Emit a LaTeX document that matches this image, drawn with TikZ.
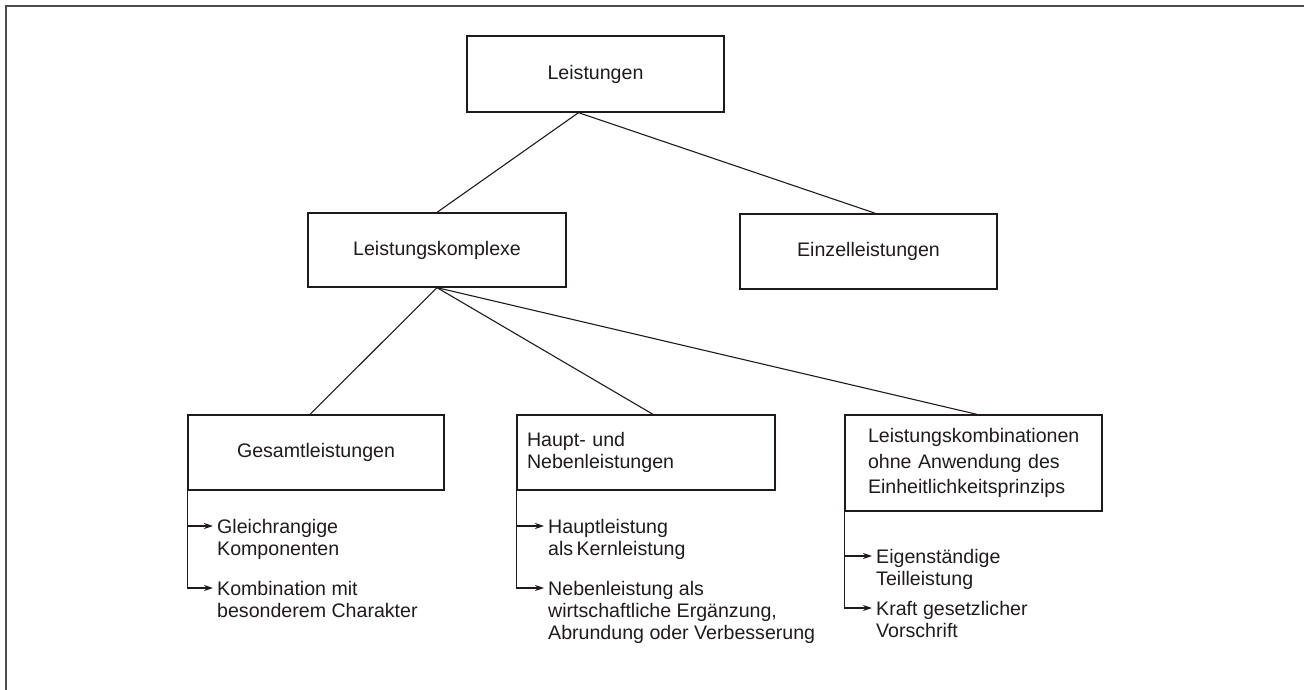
\documentclass[tikz,border=0pt]{standalone}
\usepackage{fontspec}
\setmainfont{Liberation Sans}
\usetikzlibrary{arrows.meta}
\definecolor{ink}{HTML}{1F1B1C}
\definecolor{framec}{HTML}{4D4D4D}
\begin{document}
\begin{tikzpicture}[x=1pt,y=-1pt,
  every node/.style={text=ink},
  box/.style={draw=ink, line width=1.3pt, inner sep=0pt, font=\fontsize{19.6}{22}\selectfont},
  item/.style={anchor=north west, inner sep=0pt, align=left, font=\fontsize{19.6}{22}\selectfont},
  conn/.style={draw=ink, line width=1.1pt},
  arr/.style={draw=ink, line width=1.1pt, -{Stealth[length=9pt,width=6pt]}}
]
\useasboundingbox (0,0) rectangle (1304,690);
% frame
\draw[framec, line width=2.2pt] (6,690) -- (6,6) -- (1304,6);

% boxes
\node[box, minimum width=257pt, minimum height=76pt] (lei) at (595.5,74) {Leistungen};
\node[box, minimum width=258pt, minimum height=74pt] (lk) at (437,250) {Leistungskomplexe};
\node[box, minimum width=257pt, minimum height=75pt] (ein) at (868.5,251.5) {Einzelleistungen};
\node[box, minimum width=256pt, minimum height=75pt] (ges) at (316,452.5) {Gesamtleistungen};
\node[box, minimum width=258pt, minimum height=75pt, text width=238pt, inner xsep=10pt, align=left] (hn) at (646,452.5) {Haupt- und\\Nebenleistungen};
\node[box, minimum width=257pt, minimum height=96pt, text width=211pt, inner xsep=23pt, align=left, font=\fontsize{19.6}{25.5}\selectfont] (kom) at (973.5,463) {Leistungskombinationen\\ohne Anwendung des\\Einheitlichkeitsprinzips};

% connectors
\draw[conn] ([xshift=-17pt]lei.south) -- (lk.north);
\draw[conn] ([xshift=-17pt]lei.south) -- ([xshift=7pt]ein.north);
\draw[conn] (lk.south) -- ([xshift=-6pt]ges.north);
\draw[conn] (lk.south) -- ([xshift=7pt]hn.north);
\draw[conn] (lk.south) -- ([xshift=3.5pt]kom.north);

% list items
\node[item] (g1) at (217,519.3) {Gleichrangige\\Komponenten};
\node[item] (g2) at (217,581.3) {Kombination mit\\besonderem Charakter};
\node[item] (h1) at (548,519.3) {Hauptleistung\\als\,Kernleistung};
\node[item] (h2) at (548,581.3) {Nebenleistung als\\wirtschaftliche Ergänzung,\\Abrundung oder Verbesserung};
\node[item] (k1) at (876,549.3) {Eigenständige\\Teilleistung};
\node[item] (k2) at (876,601.3) {Kraft gesetzlicher\\Vorschrift};

\foreach \n in {g1,g2,h1,h2,k1,k2}
  \coordinate (\n a) at ([xshift=-4pt,yshift=-6.7pt]\n.north west);

\draw[arr] (ges.south west) |- (g2a);
\draw[arr] (ges.south west |- g1a) -- (g1a);
\draw[arr] (hn.south west) |- (h2a);
\draw[arr] (hn.south west |- h1a) -- (h1a);
\draw[arr] (kom.south west) |- (k2a);
\draw[arr] (kom.south west |- k1a) -- (k1a);
\end{tikzpicture}
\end{document}
